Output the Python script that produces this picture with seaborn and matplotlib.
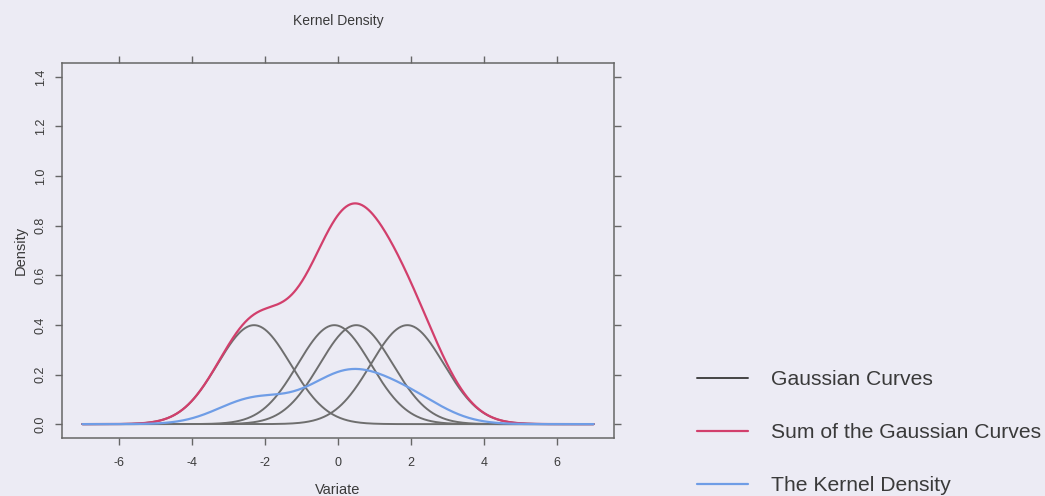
import numpy as np
import pandas as pd
import matplotlib
matplotlib.use("Agg")
import matplotlib.pyplot as plt
import seaborn as sns
from matplotlib.lines import Line2D

# Data: kernel centres (sd = 1 each)
centers = [-2.3, -0.1, 0.5, 1.9]
bandwidth = 1.0
x_range = [-7.0, 7.0]
x_ticks = [-6, -4, -2, 0, 2, 4, 6]
y_ticks = [0.0, 0.2, 0.4, 0.6, 0.8, 1.0, 1.2, 1.4]
legend_labels = ["Gaussian Curves", "Sum of the Gaussian Curves", "The Kernel Density"]

sns.set_theme(style="white")
plt.rcParams['font.family'] = ['Liberation Sans', 'DejaVu Sans']

BG = "#ecebf4"
GREY = "#6e6e6e"
RED = "#d23f6c"
BLUE = "#6f9de6"
TXT = "#3a3a3a"

x = np.linspace(x_range[0], x_range[1], 701)
def gauss(xx, m, s):
    return np.exp(-0.5 * ((xx - m) / s) ** 2) / (s * np.sqrt(2 * np.pi))

curves = [gauss(x, c, bandwidth) for c in centers]
total = np.sum(curves, axis=0)
kde = total / len(centers)

fig = plt.figure(figsize=(10.45, 4.96), dpi=100, facecolor=BG)
ax = fig.add_axes([62/1045, 1-438/496, (614-62)/1045, (438-63)/496])
ax.set_facecolor(BG)

for c, y in zip(centers, curves):
    sns.lineplot(x=x, y=y, ax=ax, color=GREY, lw=1.4, estimator=None, sort=False)
sns.lineplot(x=x, y=total, ax=ax, color=RED, lw=1.6, estimator=None, sort=False)
sns.lineplot(x=x, y=kde, ax=ax, color=BLUE, lw=1.6, estimator=None, sort=False)

ax.set_xlim(-7.56, 7.56)
ax.set_ylim(-0.056, 1.456)
ax.set_xticks(x_ticks)
ax.set_yticks(y_ticks)
ax.set_xticklabels([str(t) for t in x_ticks], fontsize=9, color=TXT)
ax.set_yticklabels([f"{t:.1f}" for t in y_ticks], fontsize=9, color=TXT, rotation=90, va="center")
ax.tick_params(axis="both", which="both", direction="out", length=5, width=1, color="#666666",
               top=True, right=True, bottom=True, left=True,
               labeltop=False, labelright=False, pad=6)
ax.tick_params(axis="x", pad=9)
for s in ax.spines.values():
    s.set_color("#666666")
    s.set_linewidth(1.1)
    s.set_visible(True)

ax.set_xlabel("Variate", fontsize=10.5, color=TXT, labelpad=10)
ax.set_ylabel("Density", fontsize=10.5, color=TXT, labelpad=5)
ax.set_title("Kernel Density", fontsize=10, color=TXT, pad=27)

handles = [Line2D([], [], color="#444444", lw=1.4),
           Line2D([], [], color=RED, lw=1.6),
           Line2D([], [], color=BLUE, lw=1.6)]
leg = fig.legend(handles, legend_labels, loc="upper left", bbox_to_anchor=(678/1045, 1-351/496),
                 frameon=False, fontsize=15.2, labelspacing=1.62, handlelength=2.4,
                 handletextpad=1.1, labelcolor=TXT)

fig.savefig("out.png", dpi=100, facecolor=BG)
